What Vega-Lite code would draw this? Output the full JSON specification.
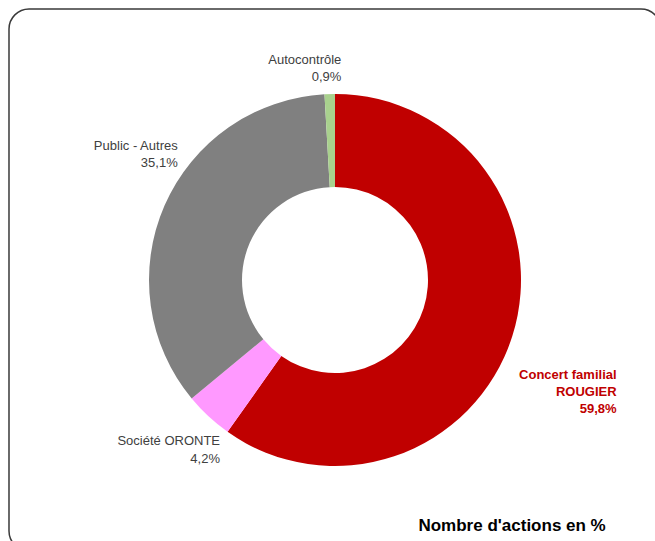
{
  "$schema": "https://vega.github.io/schema/vega-lite/v6.json",
  "width": 652,
  "height": 542,
  "autosize": "none",
  "padding": {"left": 9, "top": 9, "right": 0, "bottom": 0},
  "background": "white",
  "config": {
    "view": {"stroke": null},
    "font": "Liberation Sans"
  },
  "title": {
    "text": "Nombre d'actions en %",
    "orient": "bottom",
    "anchor": "end",
    "offset": -34,
    "dx": -56,
    "fontSize": 17,
    "fontWeight": "bold",
    "font": "Liberation Sans",
    "color": "#000000"
  },
  "data": {
    "values": [
      {"categorie": "Concert familial ROUGIER", "etiquette": "Concert familial\nROUGIER\n59,8%", "part": 59.8, "ordre": 1},
      {"categorie": "Société ORONTE", "etiquette": "Société ORONTE\n4,2%", "part": 4.2, "ordre": 2},
      {"categorie": "Public - Autres", "etiquette": "Public - Autres\n35,1%", "part": 35.1, "ordre": 3},
      {"categorie": "Autocontrôle", "etiquette": "Autocontrôle\n0,9%", "part": 0.9, "ordre": 4}
    ]
  },
  "layer": [
    {
      "transform": [{"aggregate": [{"op": "count", "as": "n"}]}],
      "mark": {"type": "rect", "fill": null, "stroke": "#3a3a3a", "strokeWidth": 1.5, "cornerRadius": 20},
      "encoding": {}
    },
    {
      "encoding": {
        "theta": {"field": "part", "type": "quantitative", "stack": true},
        "order": {"field": "ordre", "type": "quantitative"}
      },
      "layer": [
        {
          "mark": {"type": "arc", "outerRadius": 186, "innerRadius": 93},
          "encoding": {
            "color": {
              "field": "categorie",
              "type": "nominal",
              "scale": {
                "domain": ["Concert familial ROUGIER", "Société ORONTE", "Public - Autres", "Autocontrôle"],
                "range": ["#C00000", "#FF99FF", "#808080", "#A9D18E"]
              },
              "legend": null
            }
          }
        },
        {
          "mark": {"type": "text", "radius": 200, "align": "right", "baseline": "middle", "dx": 91, "dy": 34, "fontSize": 13, "fontWeight": "bold", "lineBreak": "\n", "lineHeight": 17, "color": "#C00000"},
          "encoding": {"text": {"condition": {"test": "datum.categorie === 'Concert familial ROUGIER'", "field": "etiquette"}, "value": ""}}
        },
        {
          "mark": {"type": "text", "radius": 200, "align": "right", "baseline": "middle", "dx": 21, "dy": 14, "fontSize": 13, "lineBreak": "\n", "lineHeight": 18, "color": "#404040"},
          "encoding": {"text": {"condition": {"test": "datum.categorie === 'Société ORONTE'", "field": "etiquette"}, "value": ""}}
        },
        {
          "mark": {"type": "text", "radius": 200, "align": "right", "baseline": "middle", "dx": 26, "dy": -54, "fontSize": 13, "lineBreak": "\n", "lineHeight": 17, "color": "#404040"},
          "encoding": {"text": {"condition": {"test": "datum.categorie === 'Public - Autres'", "field": "etiquette"}, "value": ""}}
        },
        {
          "mark": {"type": "text", "radius": 200, "align": "right", "baseline": "middle", "dx": 12, "dy": -20, "fontSize": 13, "lineBreak": "\n", "lineHeight": 17, "color": "#404040"},
          "encoding": {"text": {"condition": {"test": "datum.categorie === 'Autocontrôle'", "field": "etiquette"}, "value": ""}}
        }
      ]
    }
  ]
}
